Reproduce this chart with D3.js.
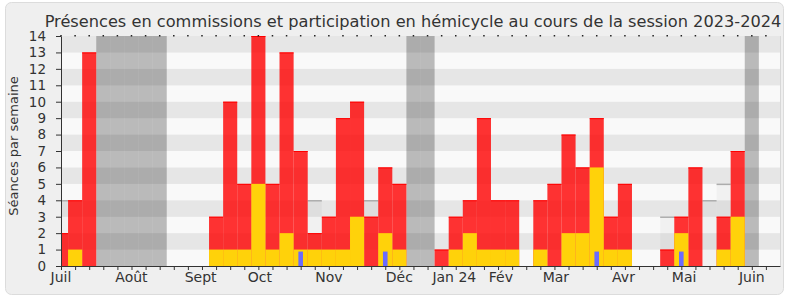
<!DOCTYPE html>
<html><head><meta charset="utf-8">
<script src="https://cdn.jsdelivr.net/npm/d3@7"></script>
<style>
html,body{margin:0;padding:0;background:#fff;}
svg{display:block;}
text{font-family:"DejaVu Sans",sans-serif;fill:#333;}
</style></head>
<body>
<svg id="chart" width="790" height="300"></svg>
<script>
// ---- data (one entry per week, session 2023-2024) ----
const weeks = d3.range(51);
const commission = [2,4,13,0,0,0,0,0,0,0,0,3,10,5,14,5,13,7,2,3,9,10,3,6,5,0,0,1,3,4,9,4,4,0,4,5,8,6,9,3,5,0,0,1,3,6,0,3,7,0,0];
const hemicycle  = [0,1,0,0,0,0,0,0,0,0,0,1,1,1,5,1,2,1,1,1,1,3,0,2,1,0,0,0,1,2,1,1,1,0,1,0,2,2,6,1,1,0,0,0,2,0,0,1,3,0,0];
const questions  = [0,0,0,0,0,0,0,0,0,0,0,0,0,0,0,0,0,1,0,0,0,0,0,1,0,0,0,0,0,0,0,0,0,0,0,0,0,0,1,0,0,0,0,0,1,0,0,0,0,0,0];
const median     = [4,null,null,null,null,null,null,null,null,null,null,null,null,null,null,null,null,null,4,null,null,null,4,null,null,null,null,null,null,null,null,null,null,null,null,null,null,null,null,null,null,null,null,3,null,null,4,5,null,null,null];
const vacances   = [3,4,5,6,7,25,26,49];
const yTicks = d3.range(0,15);
const monthLabels = ["Juil","Août","Sept","Oct","Nov","Déc","Jan 24","Fév","Mar","Avr","Mai","Juin"];
const monthWeeks  = [0,5,9.9,14.1,19,24,27.9,31.2,35.1,39.9,44.2,49];
const title = "Présences en commissions et participation en hémicycle au cours de la session 2023-2024";
const yTitle = "Séances par semaine";

// ---- layout ----
const svg = d3.select("#chart");
const x = d3.scaleLinear().domain([0,51]).range([61,780]);
const y = d3.scaleLinear().domain([0,14]).range([266,36]);
const bw = x(1)-x(0);

svg.append("rect").attr("x",5.5).attr("y",2.5).attr("width",778).attr("height",292)
  .attr("rx",6).attr("fill","#efefef").attr("stroke","#dcdcdc");

svg.append("defs").append("clipPath").attr("id","plot")
  .append("rect").attr("x",x(0)).attr("y",y(14)).attr("width",x(51)-x(0)).attr("height",y(0)-y(14));

const plot = svg.append("g").attr("clip-path","url(#plot)");

// stripes
plot.selectAll("rect.band").data(d3.range(0,14)).join("rect")
  .attr("x",x(0)).attr("width",x(51)-x(0))
  .attr("y",d=>y(d+1)).attr("height",d=>y(d)-y(d+1))
  .attr("fill",d=>d%2===1?"#e6e6e6":"#f9f9f9");

// vacation weeks
plot.selectAll("rect.vac").data(vacances).join("rect")
  .attr("x",d=>x(d-0.5)).attr("width",bw)
  .attr("y",y(14)).attr("height",y(0)-y(14))
  .attr("fill","rgba(0,0,0,0.25)");

// median overlay
const med = weeks.filter(i=>median[i]!=null);
plot.selectAll("rect.med").data(med).join("rect")
  .attr("x",d=>x(d-0.5)).attr("width",bw)
  .attr("y",d=>y(median[d])).attr("height",d=>y(0)-y(median[d]))
  .attr("fill","rgba(0,0,0,0.03)");
plot.selectAll("line.med").data(med).join("line")
  .attr("x1",d=>x(d-0.5)).attr("x2",d=>x(d+0.5))
  .attr("y1",d=>y(median[d])+0.5).attr("y2",d=>y(median[d])+0.5)
  .attr("stroke","#acacac").attr("stroke-width",1.5);

// commission bars (red)
const wc = weeks.filter(i=>commission[i]>0);
plot.selectAll("rect.com").data(wc).join("rect")
  .attr("x",d=>x(d-0.5)).attr("width",bw)
  .attr("y",d=>y(commission[d])).attr("height",d=>y(0)-y(commission[d]))
  .attr("fill","rgba(255,0,0,0.8)");
plot.selectAll("line.com").data(wc).join("line")
  .attr("x1",d=>x(d-0.5)).attr("x2",d=>x(d+0.5))
  .attr("y1",d=>y(commission[d])+0.5).attr("y2",d=>y(commission[d])+0.5)
  .attr("stroke","#ff0000").attr("stroke-width",1);

// hemicycle bars (yellow)
const wh = weeks.filter(i=>hemicycle[i]>0);
plot.selectAll("rect.hem").data(wh).join("rect")
  .attr("x",d=>x(d-0.5)).attr("width",bw)
  .attr("y",d=>y(hemicycle[d])).attr("height",d=>y(0)-y(hemicycle[d]))
  .attr("fill","#ffd20a");

// questions (blue)
const wq = weeks.filter(i=>questions[i]>0);
plot.selectAll("rect.q").data(wq).join("rect")
  .attr("x",d=>x(d)-2.3).attr("width",4.6)
  .attr("y",d=>y(questions[d])+2).attr("height",d=>y(0)-y(questions[d])-2)
  .attr("fill","#6b6bff");

// right border of plot
svg.append("line").attr("x1",x(51)+0.5).attr("x2",x(51)+0.5).attr("y1",y(14)).attr("y2",y(0))
  .attr("stroke","#d8d8d8");

// top dots
svg.selectAll("rect.dot").data(weeks).join("rect")
  .attr("x",d=>x(d)-0.75).attr("width",1.5).attr("y",35).attr("height",1.5).attr("fill","#222");

// axes
const xAxis = d3.axisBottom(x).tickValues(weeks).tickSize(4).tickSizeOuter(0).tickFormat("");
const gx = svg.append("g").attr("transform",`translate(0,${y(0)})`).call(xAxis);
gx.select(".domain").attr("stroke","#333");
gx.selectAll(".tick line").attr("stroke","#333");

const yAxis = d3.axisLeft(y).tickValues(yTicks).tickSize(5).tickSizeOuter(0).tickPadding(10).tickFormat(d3.format("d"));
const gy = svg.append("g").attr("transform",`translate(${x(0)},0)`).call(yAxis);
gy.select(".domain").attr("stroke","#333");
gy.selectAll(".tick line").attr("stroke","#333");
gy.selectAll(".tick text").attr("font-family",null).attr("font-size",13.5).attr("fill","#333");

// month labels
svg.selectAll("text.month").data(monthLabels).join("text")
  .attr("x",(d,i)=>x(monthWeeks[i])).attr("y",282)
  .attr("text-anchor","middle").attr("font-size",14).text(d=>d);

// titles
svg.append("text").attr("x",413).attr("y",26.5).attr("text-anchor","middle")
  .attr("font-size",16.2).text(title);
svg.append("text").attr("transform","translate(18,146) rotate(-90)")
  .attr("text-anchor","middle").attr("font-size",13).text(yTitle);
</script>
</body></html>
